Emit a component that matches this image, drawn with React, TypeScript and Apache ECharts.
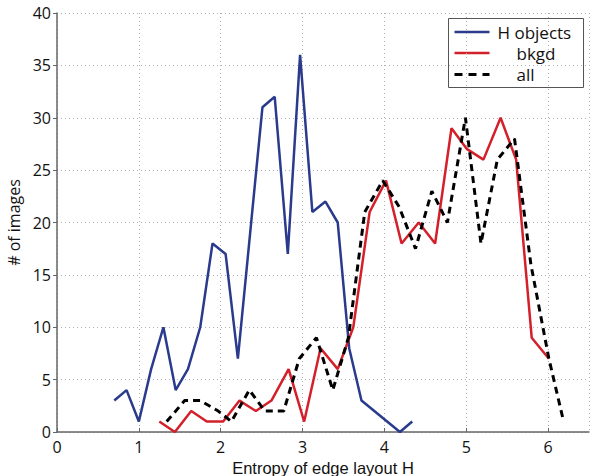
import React, { useEffect, useRef } from "react";
import * as echarts from "echarts";

const objX = [0.7, 0.85, 1.0, 1.15, 1.3, 1.45, 1.6, 1.75, 1.9, 2.06, 2.21, 2.51, 2.66, 2.82, 2.97, 3.12, 3.28, 3.43, 3.57, 3.72, 4.19, 4.34];
const objY = [3, 4, 1, 6, 10, 4, 6, 10, 18, 17, 7, 31, 32, 17, 36, 21, 22, 20, 8, 3, 0, 1];

const bkgdX = [1.25, 1.44, 1.64, 1.83, 2.03, 2.23, 2.43, 2.62, 2.83, 3.02, 3.22, 3.43, 3.62, 3.82, 4.02, 4.21, 4.42, 4.62, 4.82, 5.01, 5.21, 5.42, 5.61, 5.8, 6.01];
const bkgdY = [1, 0, 2, 1, 1, 3, 2, 3, 6, 1, 8, 6, 10, 21, 24, 18, 20, 18, 29, 27, 26, 30, 26, 9, 7];

const allX = [1.34, 1.56, 1.75, 1.97, 2.13, 2.35, 2.54, 2.77, 2.96, 3.17, 3.37, 3.56, 3.76, 3.98, 4.18, 4.38, 4.58, 4.77, 4.99, 5.18, 5.38, 5.59, 5.79, 6.01, 6.19];
const allY = [1, 3, 3, 2, 1, 4, 2, 2, 7, 9, 4, 9, 21, 24, 21.5, 17.5, 23, 20, 30, 18, 26, 28, 16, 7, 1];

const seriesNames = ["H objects", "bkgd", "all"];
const xTitle = "Entropy of edge layout H";
const yTitle = "# of images";

const zip = (xs: number[], ys: number[]) => xs.map((x, i) => [x, ys[i]]);

const BLUE = "#2a3a8c";
const RED = "#d4202a";
const BLACK = "#000000";
const FONT = "Open Sans";

export default function App() {
  const ref = useRef<HTMLDivElement>(null);
  useEffect(() => {
    if (!ref.current) return;
    const chart = echarts.init(ref.current, null, { renderer: "svg" });
    const splitStyle = { show: true, lineStyle: { color: "#b0b0b0", type: [1, 3] as any, width: 1 } };
    chart.setOption({
      animation: false,
      backgroundColor: "#ffffff",
      grid: { left: 57, right: 2, top: 13, bottom: 44, containLabel: false, outerBoundsMode: "none" },
      xAxis: {
        type: "value",
        min: 0,
        max: 6.5,
        interval: 1,
        name: xTitle,
        nameLocation: "middle",
        nameGap: 27,
        nameTextStyle: { fontFamily: "Liberation Sans", fontSize: 16.5, color: "#111" },
        axisLine: { show: true, onZero: false, lineStyle: { color: "#666", width: 1.5 } },
        axisTick: { show: true, inside: true, length: 4, lineStyle: { color: "#666" } },
        axisLabel: { fontFamily: FONT, fontSize: 16, color: "#111", margin: 7, showMaxLabel: false,
          formatter: (v: number) => (v > 6.01 ? "" : String(v)) },
        splitLine: splitStyle,
      },
      yAxis: {
        type: "value",
        min: 0,
        max: 40,
        interval: 5,
        name: yTitle,
        nameLocation: "middle",
        nameGap: 34,
        nameRotate: 90,
        nameTextStyle: { fontFamily: FONT, fontSize: 16, color: "#111" },
        axisLine: { show: true, lineStyle: { color: "#666", width: 1.5 } },
        axisTick: { show: true, inside: false, length: 4, lineStyle: { color: "#666" } },
        axisLabel: { fontFamily: FONT, fontSize: 16, color: "#111", margin: 6 },
        splitLine: splitStyle,
      },
      series: [
        {
          name: seriesNames[0], type: "line", data: zip(objX, objY), showSymbol: false, symbol: "none",
          lineStyle: { color: BLUE, width: 2.5 }, z: 3,
        },
        {
          name: seriesNames[1], type: "line", data: zip(bkgdX, bkgdY), showSymbol: false, symbol: "none",
          lineStyle: { color: RED, width: 2.5 }, z: 4,
        },
        {
          name: seriesNames[2], type: "line", data: zip(allX, allY), showSymbol: false, symbol: "none",
          lineStyle: { color: BLACK, width: 3, type: [7, 5] as any }, z: 5,
        },
      ],
      graphic: [
        {
          type: "group",
          left: 448,
          top: 18,
          children: [
            { type: "rect", shape: { x: 0, y: 0, width: 135, height: 69 }, style: { fill: "#fff", stroke: "#555", lineWidth: 1 } },
            { type: "line", shape: { x1: 6, y1: 13.5, x2: 41, y2: 13.5 }, style: { stroke: BLUE, lineWidth: 2.5 } },
            { type: "line", shape: { x1: 6, y1: 34.5, x2: 41, y2: 34.5 }, style: { stroke: RED, lineWidth: 2.5 } },
            { type: "line", shape: { x1: 6, y1: 56, x2: 41, y2: 56 }, style: { stroke: BLACK, lineWidth: 3, lineDash: [8, 6] } },
            { type: "text", x: 49, y: 14, style: { text: seriesNames[0], font: `17px "${FONT}"`, fill: "#111", verticalAlign: "middle" } },
            { type: "text", x: 68, y: 35, style: { text: seriesNames[1], font: `17px "${FONT}"`, fill: "#111", verticalAlign: "middle" } },
            { type: "text", x: 68, y: 56, style: { text: seriesNames[2], font: `17px "${FONT}"`, fill: "#111", verticalAlign: "middle" } },
          ],
        },
      ],
    });
    return () => chart.dispose();
  }, []);
  return <div ref={ref} style={{ position: "fixed", left: 0, top: 0, width: 591, height: 476 }} />;
}
